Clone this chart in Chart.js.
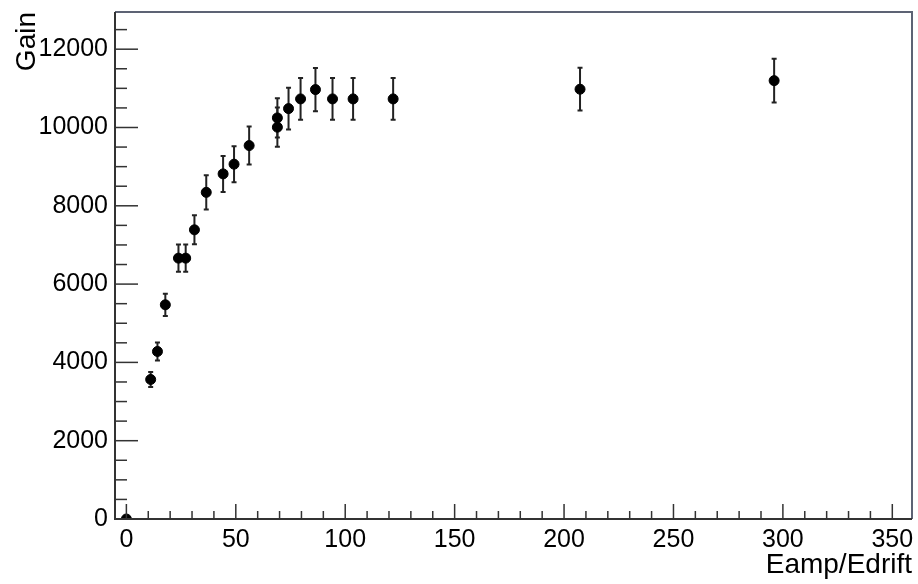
<!DOCTYPE html>
<html>
<head>
<meta charset="utf-8">
<script src="https://cdn.jsdelivr.net/npm/chart.js@4/dist/chart.umd.min.js"></script>
<style>
  html, body { margin: 0; padding: 0; background: #fff; }
  #wrap { width: 918px; height: 584px; }
</style>
</head>
<body>
<div id="wrap"><canvas id="c" width="918" height="584"></canvas></div>
<script>
// ---- data ----
const eRatio = [0, 11.1, 14.2, 17.8, 23.8, 27.1, 31.1, 36.5, 44.2, 49.2, 56.1, 69.0, 69.0, 74.1, 79.6, 86.4, 94.2, 103.6, 121.9, 207.3, 296.0];
const gain   = [0, 3564, 4279, 5471, 6663, 6663, 7386, 8343, 8815, 9063, 9538, 10008, 10245, 10482, 10730, 10968, 10730, 10730, 10730, 10978, 11197];
const gainErr= [0, 190, 230, 285, 350, 350, 370, 440, 460, 460, 485, 500, 500, 535, 535, 550, 535, 535, 535, 545, 560];
const xTicks = [0, 50, 100, 150, 200, 250, 300, 350];
const yTicks = [0, 2000, 4000, 6000, 8000, 10000, 12000];
const xTitle = 'Eamp/Edrift';
const yTitle = 'Gain';

const FONT = "'Liberation Sans', Arial, Helvetica, sans-serif";

const points = eRatio.map((x, i) => ({ x: x, y: gain[i] }));

const errorBars = {
  id: 'errorBars',
  beforeDatasetsDraw(chart) {
    const ctx = chart.ctx, xs = chart.scales.x, ys = chart.scales.y;
    ctx.save();
    ctx.strokeStyle = '#222';
    ctx.lineWidth = 2;
    eRatio.forEach((x, i) => {
      const e = gainErr[i];
      if (!e) return;
      const px = xs.getPixelForValue(x);
      const y1 = ys.getPixelForValue(gain[i] + e);
      const y2 = ys.getPixelForValue(gain[i] - e);
      ctx.beginPath();
      ctx.moveTo(px, y1); ctx.lineTo(px, y2);
      ctx.moveTo(px - 2.5, y1); ctx.lineTo(px + 2.5, y1);
      ctx.moveTo(px - 2.5, y2); ctx.lineTo(px + 2.5, y2);
      ctx.stroke();
    });
    ctx.restore();
  }
};

const frameTicks = {
  id: 'frameTicks',
  afterDraw(chart) {
    const ctx = chart.ctx, xs = chart.scales.x, ys = chart.scales.y;
    const a = chart.chartArea;
    ctx.save();
    ctx.lineWidth = 2;
    ctx.strokeStyle = '#5d6374';
    ctx.beginPath();
    ctx.moveTo(a.left, a.top); ctx.lineTo(a.right, a.top); ctx.lineTo(a.right, a.bottom);
    ctx.stroke();
    ctx.strokeStyle = '#333';
    ctx.beginPath();
    ctx.moveTo(a.left, a.top); ctx.lineTo(a.left, a.bottom); ctx.lineTo(a.right, a.bottom);
    ctx.stroke();
    ctx.lineWidth = 1.5;
    for (let v = 0; v <= 350; v += 10) {
      const px = xs.getPixelForValue(v);
      const len = (v % 50 === 0) ? 15 : 8;
      ctx.beginPath(); ctx.moveTo(px, a.bottom); ctx.lineTo(px, a.bottom - len); ctx.stroke();
    }
    for (let v = 0; v <= ys.max; v += 500) {
      const py = ys.getPixelForValue(v);
      const len = (v % 2000 === 0) ? 23 : 12;
      ctx.beginPath(); ctx.moveTo(a.left, py); ctx.lineTo(a.left + len, py); ctx.stroke();
    }
    ctx.restore();
  }
};

new Chart(document.getElementById('c'), {
  type: 'scatter',
  data: {
    datasets: [{
      data: points,
      backgroundColor: '#000',
      borderColor: '#000',
      pointRadius: 5,
      pointHoverRadius: 5,
      showLine: false
    }]
  },
  options: {
    responsive: false,
    animation: false,
    events: [],
    layout: { padding: { top: 12, right: 5, left: 0, bottom: 0 } },
    plugins: { legend: { display: false }, tooltip: { enabled: false } },
    scales: {
      x: {
        type: 'linear',
        min: -5.2,
        max: 359,
        afterBuildTicks(scale) { scale.ticks = xTicks.map(v => ({ value: v })); },
        afterFit(scale) { scale.height = 65; scale.paddingLeft = 0; scale.paddingRight = 0; },
        grid: { display: false, drawTicks: false },
        border: { display: false },
        ticks: {
          color: '#000', padding: 6, maxRotation: 0, autoSkip: false,
          font: { family: FONT, size: 25 },
          callback: v => String(v)
        },
        title: {
          display: true, text: xTitle, align: 'end', color: '#000',
          font: { family: FONT, size: 28 }, padding: { top: 0, bottom: 2 }
        }
      },
      y: {
        type: 'linear',
        min: 0,
        max: 12950,
        afterBuildTicks(scale) { scale.ticks = yTicks.map(v => ({ value: v })); },
        afterFit(scale) { scale.width = 115; scale.paddingTop = 0; scale.paddingBottom = 0; },
        grid: { display: false, drawTicks: false },
        border: { display: false },
        ticks: {
          color: '#000', padding: 7, autoSkip: false,
          font: { family: FONT, size: 25 },
          callback: v => String(v)
        },
        title: {
          display: true, text: yTitle, align: 'end', color: '#000',
          font: { family: FONT, size: 28 }, padding: { top: 10, bottom: 0 }
        }
      }
    }
  },
  plugins: [errorBars, frameTicks]
});
</script>
</body>
</html>
